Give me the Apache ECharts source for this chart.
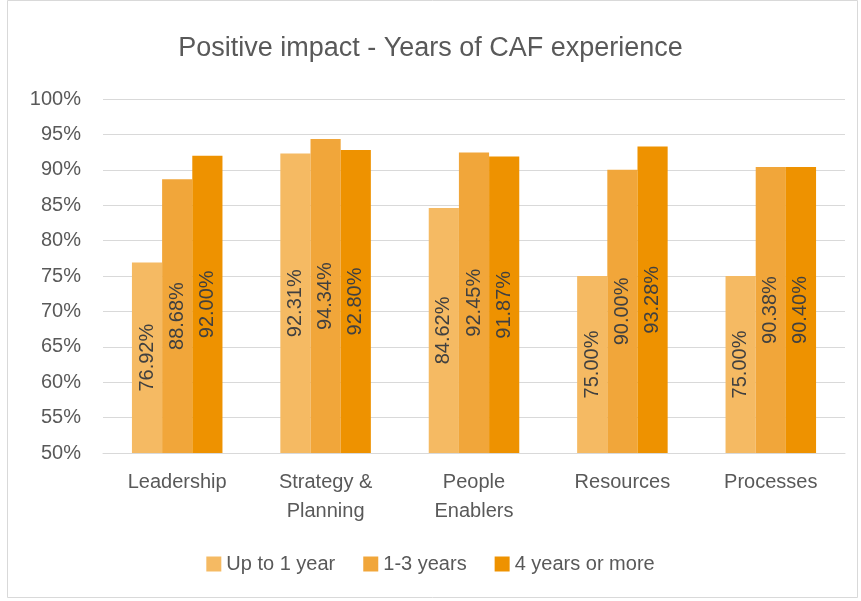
<!DOCTYPE html>
<html>
<head>
<meta charset="utf-8">
<script src="https://cdn.jsdelivr.net/npm/echarts@6/dist/echarts.min.js"></script>
<style>
  html, body { margin: 0; padding: 0; background: #fff; }
  #main { width: 861px; height: 601px; }
</style>
</head>
<body>
<div id="main"></div>
<script>
var categories = ['Leadership', 'Strategy &\nPlanning', 'People\nEnablers', 'Resources', 'Processes'];
var seriesNames = ['Up to 1 year', '1-3 years', '4 years or more'];
var upTo1 = [76.92, 92.31, 84.62, 75.00, 75.00];
var years13 = [88.68, 94.34, 92.45, 90.00, 90.38];
var years4 = [92.00, 92.80, 91.87, 93.28, 90.40];
var colors = ['#F5BA63', '#F1A63A', '#EE9200'];

var chart = echarts.init(document.getElementById('main'));

function makeSeries(name, data, color){
    return {
        name: name,
        type: 'bar',
        data: data,
        barGap: '0%',
        barCategoryGap: '39%',
        itemStyle: { color: color },
        label: {
            show: true,
            position: 'inside',
            rotate: 90,
            color: '#404040',
            fontSize: 20,
            fontFamily: 'Liberation Sans',
            formatter: function(p){ return p.value.toFixed(2) + '%'; }
        }
    };
}

var option = {
    animation: false,
    backgroundColor: '#fff',
    title: {
        text: 'Positive impact - Years of CAF experience',
        left: 'center',
        top: 30,
        textStyle: { color: '#595959', fontSize: 27, fontWeight: 'normal', fontFamily: 'Liberation Sans' }
    },
    legend: {
        data: seriesNames,
        bottom: 22,
        left: 'center',
        itemWidth: 15,
        itemHeight: 15,
        itemGap: 28,
        icon: 'rect',
        textStyle: { color: '#595959', fontSize: 20, fontFamily: 'Liberation Sans' }
    },
    grid: { left: 103, right: 16, top: 99, bottom: 148, containLabel: false },
    xAxis: {
        type: 'category',
        data: categories,
        axisLine: { lineStyle: { color: '#D9D9D9' } },
        axisTick: { show: false },
        axisLabel: { color: '#595959', fontSize: 20, fontFamily: 'Liberation Sans', lineHeight: 29, margin: 15 }
    },
    yAxis: {
        type: 'value',
        min: 50,
        max: 100,
        interval: 5,
        axisLine: { show: false },
        axisTick: { show: false },
        splitLine: { lineStyle: { color: '#D9D9D9', width: 1 } },
        axisLabel: { color: '#595959', fontSize: 20, fontFamily: 'Liberation Sans', margin: 22,
            formatter: function(v){ return v + '%'; } }
    },
    series: [
        makeSeries(seriesNames[0], upTo1, colors[0]),
        makeSeries(seriesNames[1], years13, colors[1]),
        makeSeries(seriesNames[2], years4, colors[2])
    ],
    graphic: [{
        type: 'rect',
        shape: { x: 7.5, y: 0.5, width: 850, height: 597 },
        style: { fill: null, stroke: '#D9D9D9', lineWidth: 1 },
        silent: true
    }]
};

chart.setOption(option);
</script>
</body>
</html>
